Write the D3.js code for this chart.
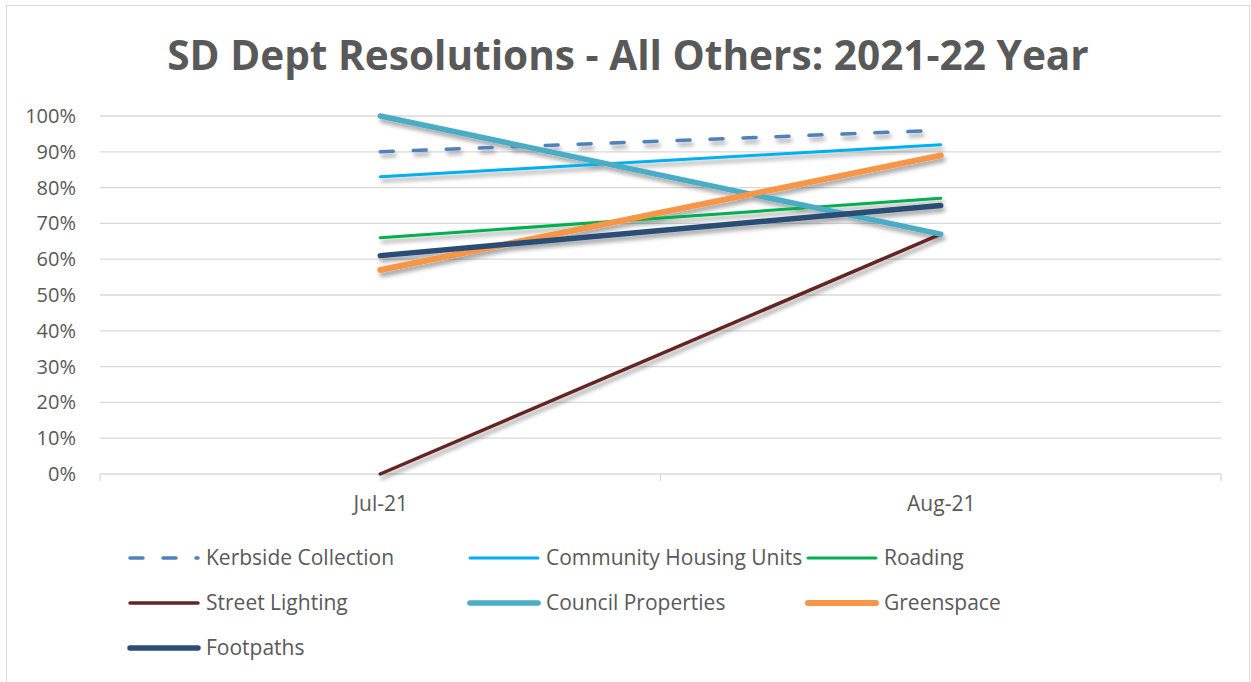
<!DOCTYPE html>
<html>
<head>
<meta charset="utf-8">
<script src="https://cdn.jsdelivr.net/npm/d3@7"></script>
<style>
  html, body { margin: 0; padding: 0; background: #fff; }
  svg { display: block; }
  text { font-family: "Open Sans", "Noto Sans", sans-serif; fill: #595959; }
</style>
</head>
<body>
<svg id="chart" width="1251" height="682"></svg>
<script>
// Resolution rates by department area, per month
const months = ["Jul-21", "Aug-21"];
const seriesNames = ["Kerbside Collection", "Community Housing Units", "Roading",
                     "Street Lighting", "Council Properties", "Greenspace", "Footpaths"];
const kerbside = [0.90, 0.96];
const communityHousing = [0.83, 0.92];
const roading = [0.66, 0.77];
const streetLighting = [0.00, 0.67];
const councilProperties = [1.00, 0.67];
const greenspace = [0.57, 0.89];
const footpaths = [0.61, 0.75];
const yTicks = [0, 0.1, 0.2, 0.3, 0.4, 0.5, 0.6, 0.7, 0.8, 0.9, 1.0];

const seriesValues = [kerbside, communityHousing, roading, streetLighting,
                      councilProperties, greenspace, footpaths];
const seriesStyle = [
  { color: "#4F81BD", width: 3.5, dash: "13,20" },
  { color: "#00B0F0", width: 3, dash: null },
  { color: "#00B050", width: 3, dash: null },
  { color: "#632523", width: 3.5, dash: null },
  { color: "#4BACC6", width: 5.5, dash: null },
  { color: "#F79646", width: 6, dash: null },
  { color: "#2C4D75", width: 5.5, dash: null }
];

const svg = d3.select("#chart");
const W = 1251, H = 682;

// Outer chart frame
svg.append("rect").attr("x", 6.5).attr("y", 5.5).attr("width", W - 8).attr("height", H + 10)
  .attr("fill", "#fff").attr("stroke", "#d9d9d9").attr("stroke-width", 1);

// Soft drop shadow used by the series lines
const defs = svg.append("defs");
const f = defs.append("filter").attr("id", "shadow")
  .attr("x", "-10%").attr("y", "-10%").attr("width", "120%").attr("height", "130%");
f.append("feGaussianBlur").attr("in", "SourceAlpha").attr("stdDeviation", 2.2).attr("result", "b");
f.append("feOffset").attr("in", "b").attr("dx", 2).attr("dy", 3.5).attr("result", "o");
f.append("feComponentTransfer").attr("in", "o").attr("result", "s")
  .append("feFuncA").attr("type", "linear").attr("slope", 0.35);
const m = f.append("feMerge");
m.append("feMergeNode").attr("in", "s");
m.append("feMergeNode").attr("in", "SourceGraphic");

// Title
svg.append("text").attr("x", 628).attr("y", 70).attr("text-anchor", "middle")
  .attr("font-size", 40.6).attr("font-weight", "bold")
  .text("SD Dept Resolutions - All Others: 2021-22 Year");

const plot = { left: 100, right: 1221, top: 116, bottom: 474 };
const x = d3.scalePoint().domain(months).range([plot.left, plot.right]).padding(0.5);
const y = d3.scaleLinear().domain([0, 1]).range([plot.bottom, plot.top]);

// Horizontal gridlines
svg.append("g").selectAll("line").data(yTicks.filter(d => d > 0)).join("line")
  .attr("x1", plot.left).attr("x2", plot.right)
  .attr("y1", d => y(d)).attr("y2", d => y(d))
  .attr("stroke", "#d9d9d9").attr("stroke-width", 1.3);

// Y axis labels
const yAxis = d3.axisLeft(y).tickValues(yTicks).tickFormat(d3.format(".0%")).tickSize(0).tickPadding(0);
const gy = svg.append("g").attr("transform", `translate(${plot.left - 24},0)`).call(yAxis);
gy.select(".domain").remove();
gy.selectAll("text").attr("font-size", 20).attr("fill", "#595959")
  .style("font-family", "'Open Sans', sans-serif");

// X axis with category tick marks at band boundaries
const xAxis = d3.axisBottom(x).tickSize(0).tickPadding(22);
const gx = svg.append("g").attr("transform", `translate(0,${plot.bottom})`).call(xAxis);
gx.select(".domain").remove();
gx.selectAll("text").attr("font-size", 21).attr("fill", "#595959")
  .style("font-family", "'Open Sans', sans-serif");
svg.append("line").attr("x1", plot.left).attr("x2", plot.right)
  .attr("y1", plot.bottom).attr("y2", plot.bottom)
  .attr("stroke", "#d9d9d9").attr("stroke-width", 1.3);
const step = x.step();
const bounds = [plot.left, plot.left + step, plot.right];
svg.append("g").selectAll("line").data(bounds).join("line")
  .attr("x1", d => d).attr("x2", d => d)
  .attr("y1", plot.bottom).attr("y2", plot.bottom + 7)
  .attr("stroke", "#d9d9d9").attr("stroke-width", 1.3);

// Series lines
const line = d3.line().x((d, i) => x(months[i])).y(d => y(d));
const lines = svg.append("g").attr("filter", "url(#shadow)");
seriesValues.forEach((vals, i) => {
  const s = seriesStyle[i];
  lines.append("path").datum(vals).attr("d", line)
    .attr("fill", "none").attr("stroke", s.color).attr("stroke-width", s.width)
    .attr("stroke-linecap", "round")
    .attr("stroke-dasharray", s.dash);
});

// Legend, three columns
const legendCols = [128, 468, 806];
const legendRows = [558, 603, 648];
const lg = svg.append("g");
seriesNames.forEach((name, i) => {
  const s = seriesStyle[i];
  const lx = legendCols[i % 3], ly = legendRows[Math.floor(i / 3)];
  lg.append("line").attr("x1", lx + 2).attr("x2", lx + 70).attr("y1", ly).attr("y2", ly)
    .attr("stroke", s.color).attr("stroke-width", s.width).attr("stroke-linecap", "round")
    .attr("stroke-dasharray", s.dash);
  lg.append("text").attr("x", lx + 78).attr("y", ly).attr("dy", "0.35em")
    .attr("font-size", 21).text(name);
});
</script>
</body>
</html>
